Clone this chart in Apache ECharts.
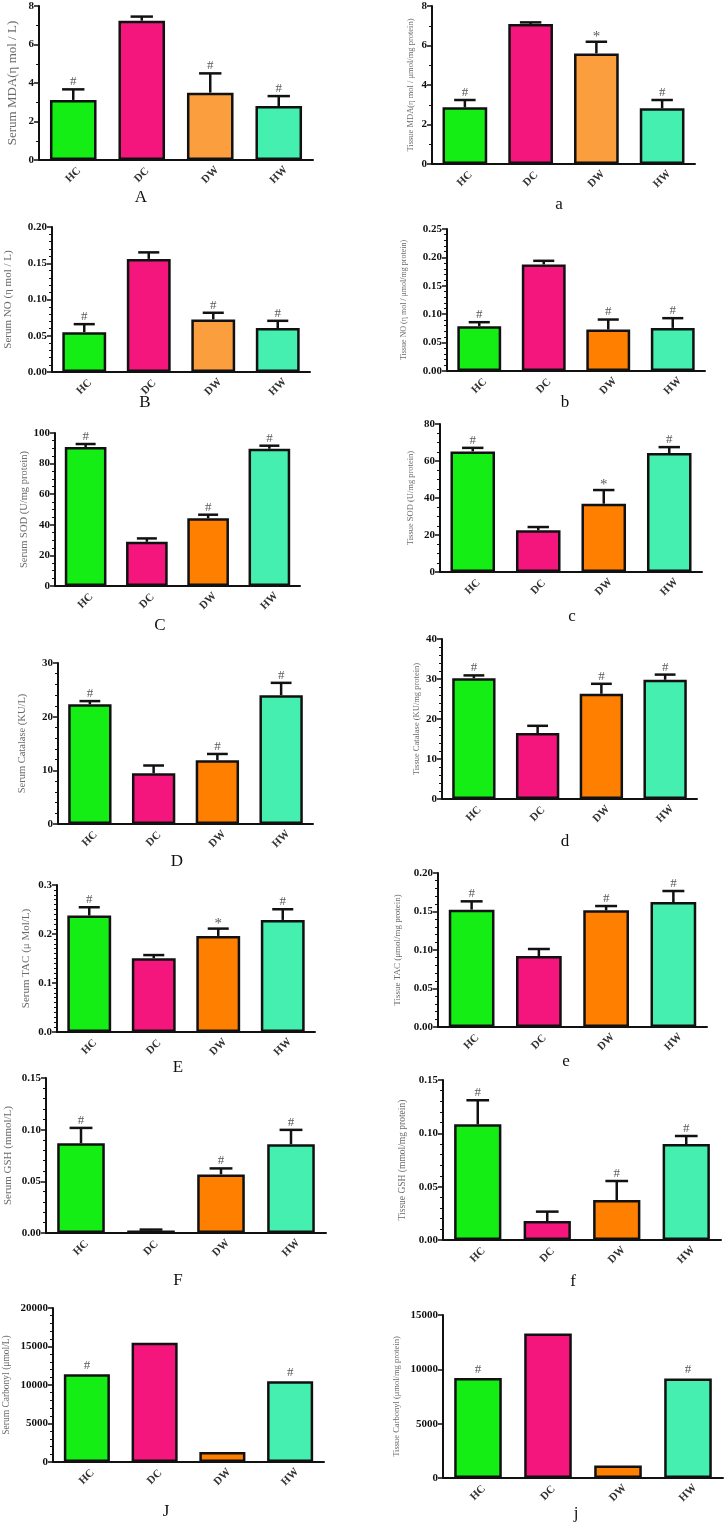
<!DOCTYPE html>
<html><head><meta charset="utf-8">
<script src="https://cdn.jsdelivr.net/npm/echarts@6/dist/echarts.min.js"></script>
<style>html,body{margin:0;padding:0;background:#fff}#c{width:725px;height:1522px}</style>
</head><body><div id="c"></div>
<script>
const categories = ['HC', 'DC', 'DW', 'HW'];

const serumMDA = [3.12, 7.24, 3.5, 2.8];
const serumMDASem = [0.55, 0.21, 1.0, 0.52];
const serumMDASig = ['#', '', '#', '#'];

const tissueMDA = [2.87, 7.09, 5.6, 2.82];
const tissueMDASem = [0.37, 0.08, 0.59, 0.42];
const tissueMDASig = ['#', '', '*', '#'];

const serumNO = [0.055, 0.156, 0.0725, 0.0606];
const serumNOSem = [0.011, 0.009, 0.0092, 0.010];
const serumNOSig = ['#', '', '#', '#'];

const tissueNO = [0.0788, 0.1876, 0.0729, 0.0759];
const tissueNOSem = [0.0071, 0.0064, 0.0177, 0.0171];
const tissueNOSig = ['#', '', '#', '#'];

const serumSOD = [90.8, 28.9, 44.2, 89.7];
const serumSODSem = [2.0, 2.2, 2.4, 2.0];
const serumSODSig = ['#', '', '#', '#'];

const tissueSOD = [65.2, 22.6, 36.9, 64.3];
const tissueSODSem = [1.9, 1.7, 7.4, 3.2];
const tissueSODSig = ['#', '', '*', '#'];

const serumCAT = [22.3, 9.46, 11.9, 24.0];
const serumCATSem = [0.6, 1.44, 1.15, 2.3];
const serumCATSig = ['#', '', '#', '#'];

const tissueCAT = [30.2, 16.5, 26.3, 29.8];
const tissueCATSem = [0.7, 1.8, 2.5, 1.3];
const tissueCATSig = ['#', '', '#', '#'];

const serumTAC = [0.2376, 0.1507, 0.196, 0.2287];
const serumTACSem = [0.017, 0.0063, 0.015, 0.0218];
const serumTACSig = ['#', '', '*', '#'];

const tissueTAC = [0.1524, 0.0922, 0.1515, 0.1623];
const tissueTACSem = [0.0108, 0.0091, 0.0056, 0.0143];
const tissueTACSig = ['#', '', '#', '#'];

const serumGSH = [0.0868, 0.0025, 0.0567, 0.0859];
const serumGSHSem = [0.0149, 0.0008, 0.0058, 0.0139];
const serumGSHSig = ['#', '', '#', '#'];

const tissueGSH = [0.1084, 0.0178, 0.0375, 0.09];
const tissueGSHSem = [0.0226, 0.0088, 0.0178, 0.0075];
const tissueGSHSig = ['#', '', '#', '#'];

const serumCarbonyl = [11400, 15500, 1300, 10500];
const serumCarbonylSig = ['#', '', '', '#'];

const tissueCarbonyl = [9200, 13300, 1150, 9150];
const tissueCarbonylSig = ['#', '', '', '#'];

const SERIF = '"Liberation Serif", "DejaVu Serif", serif';
const COLORS = ['#14ee14', '#f4167c', '#ff7f00', '#44efb0'];
const DW_LIGHT = '#fb9e3e';

const panels = [
  {letter:'A', lx:141, ly:198, name:'Serum MDA(η mol / L)', mean:serumMDA, sem:serumMDASem, sig:serumMDASig, max:8, interval:2, minor:2, dec:0, grid:[39,6,313,160], nameGap:20, nameSize:13, dwLight:true},
  {letter:'a', lx:559, ly:205, name:'Tissue MDA(η mol / μmol/mg protein)', mean:tissueMDA, sem:tissueMDASem, sig:tissueMDASig, max:8, interval:2, minor:2, dec:0, grid:[432,6,695,164], nameGap:17, nameSize:8.5, dwLight:true},
  {letter:'B', lx:145, ly:403, name:'Serum NO (η mol / L)', mean:serumNO, sem:serumNOSem, sig:serumNOSig, max:0.2, interval:0.05, minor:5, dec:2, grid:[52,227,310,372], nameGap:38, nameSize:11, dwLight:true},
  {letter:'b', lx:565, ly:403, name:'Tissue NO (η mol / μmol/mg protein)', mean:tissueNO, sem:tissueNOSem, sig:tissueNOSig, max:0.25, interval:0.05, minor:5, dec:2, grid:[447,229,705,371], nameGap:39, nameSize:8},
  {letter:'C', lx:160, ly:626, name:'Serum SOD (U/mg protein)', mean:serumSOD, sem:serumSODSem, sig:serumSODSig, max:100, interval:20, minor:4, dec:0, grid:[55,433,300,586], nameGap:23, nameSize:10.5},
  {letter:'c', lx:572, ly:617, name:'Tissue SOD (U/mg protein)', mean:tissueSOD, sem:tissueSODSem, sig:tissueSODSig, max:80, interval:20, minor:4, dec:0, grid:[440,424,702,572], nameGap:25, nameSize:8.5},
  {letter:'D', lx:177, ly:862, name:'Serum Catalase (KU/L)', mean:serumCAT, sem:serumCATSem, sig:serumCATSig, max:30, interval:10, minor:5, dec:0, grid:[58,663,313,824], nameGap:30, nameSize:10.5},
  {letter:'d', lx:565, ly:842, name:'Tissue Catalase (KU/mg protein)', mean:tissueCAT, sem:tissueCATSem, sig:tissueCATSig, max:40, interval:10, minor:5, dec:0, grid:[442,639,697,799], nameGap:21, nameSize:8.5},
  {letter:'E', lx:178, ly:1068, name:'Serum TAC (μ Mol/L)', mean:serumTAC, sem:serumTACSem, sig:serumTACSig, max:0.3, interval:0.1, minor:10, dec:1, grid:[57,885,315,1032], nameGap:25, nameSize:11},
  {letter:'e', lx:566, ly:1062, name:'Tissue TAC (μmol/mg protein)', mean:tissueTAC, sem:tissueTACSem, sig:tissueTACSig, max:0.2, interval:0.05, minor:5, dec:2, grid:[438,873,707,1027], nameGap:36, nameSize:9},
  {letter:'F', lx:178, ly:1281, name:'Serum GSH (mmol/L)', mean:serumGSH, sem:serumGSHSem, sig:serumGSHSig, max:0.15, interval:0.05, minor:5, dec:2, grid:[46,1078,326,1233], nameGap:32, nameSize:11},
  {letter:'f', lx:573, ly:1282, name:'Tissue GSH (mmol/mg protein)', mean:tissueGSH, sem:tissueGSHSem, sig:tissueGSHSig, max:0.15, interval:0.05, minor:5, dec:2, grid:[443,1080,721,1240], nameGap:36, nameSize:9.5},
  {letter:'J', lx:166, ly:1512, name:'Serum Carbonyl (μmol/L)', mean:serumCarbonyl, sem:null, sig:serumCarbonylSig, max:20000, interval:5000, minor:5, dec:0, grid:[53,1308,324,1462], nameGap:42, nameSize:9.5},
  {letter:'j', lx:576, ly:1514, name:'Tissue Carbonyl (μmol/mg protein)', mean:tissueCarbonyl, sem:null, sig:tissueCarbonylSig, max:15000, interval:5000, minor:0, dec:0, grid:[443,1315,723,1478], nameGap:42, nameSize:8.5}
];

const grids = [], xAxes = [], yAxes = [], series = [], graphics = [];

panels.forEach((p, k) => {
  grids.push({left:p.grid[0], top:p.grid[1], width:p.grid[2]-p.grid[0], height:p.grid[3]-p.grid[1], containLabel:false});
  xAxes.push({
    type:'category', gridIndex:k, data:categories,
    axisLine:{lineStyle:{color:'#111', width:2}},
    axisTick:{alignWithLabel:true, length:5, lineStyle:{color:'#111', width:1.5}},
    axisLabel:{rotate:45, align:'center', verticalAlign:'middle', margin:15, fontFamily:SERIF, fontWeight:'bold', fontSize:11, color:'#333'}
  });
  yAxes.push({
    type:'value', gridIndex:k, min:0, max:p.max, interval:p.interval,
    name:p.name, nameLocation:'middle', nameGap:p.nameGap, nameRotate:90,
    nameTextStyle:{fontFamily:SERIF, fontSize:p.nameSize, color:'#6b6b6b'},
    axisLine:{show:true, lineStyle:{color:'#111', width:2}},
    axisTick:{show:true, length:5, lineStyle:{color:'#111', width:1.5}},
    minorTick:{show:p.minor>0, splitNumber:p.minor || 5, length:3, lineStyle:{color:'#111', width:1}},
    splitLine:{show:false},
    axisLabel:{formatter:(v)=>v.toFixed(p.dec), fontFamily:SERIF, fontWeight:'bold', fontSize:11, color:'#111', margin:5}
  });
  const cols = COLORS.slice();
  if (p.dwLight) cols[2] = DW_LIGHT;
  series.push({
    type:'bar', xAxisIndex:k, yAxisIndex:k, barWidth:'68%', animation:false, silent:true,
    itemStyle:{borderColor:'#111', borderWidth:2.5},
    data:p.mean.map((v, i) => ({value:v, itemStyle:{color:cols[i]}}))
  });
  series.push({
    type:'custom', xAxisIndex:k, yAxisIndex:k, animation:false, silent:true, z:5, clip:false,
    data:p.mean.map((v, i) => [i, v, p.sem ? p.sem[i] : 0]),
    renderItem:(params, api) => {
      const i = api.value(0), v = api.value(1), e = api.value(2);
      const base = api.coord([i, v]);
      const top = api.coord([i, v + e]);
      const bw = api.size([1, 0])[0] * 0.68;
      const half = bw * 0.24;
      const children = [];
      if (e > 0) {
        children.push({type:'line', shape:{x1:top[0], y1:base[1], x2:top[0], y2:top[1]}, style:{stroke:'#111', lineWidth:2.5}});
        children.push({type:'line', shape:{x1:top[0]-half, y1:top[1], x2:top[0]+half, y2:top[1]}, style:{stroke:'#111', lineWidth:2.5}});
      }
      const s = p.sig[params.dataIndex];
      if (s) {
        const star = s === '*';
        children.push({type:'text', x:top[0], y:top[1] - (star ? -3 : 1) - (e > 0 ? 0 : 1),
          style:{text:s, fill:'#5a5a5a', fontFamily:SERIF, fontSize:star ? 15 : 13, align:'center', verticalAlign:'bottom'}});
      }
      return {type:'group', children};
    }
  });
  graphics.push({type:'text', x:p.lx, y:p.ly, silent:true,
    style:{text:p.letter, fontFamily:SERIF, fontSize:17, fill:'#111', align:'center', verticalAlign:'middle'}});
});

const chart = echarts.init(document.getElementById('c'), null, {renderer:'canvas'});
chart.setOption({
  backgroundColor:'#fff', animation:false,
  grid:grids, xAxis:xAxes, yAxis:yAxes, series:series, graphic:graphics
});
</script></body></html>
